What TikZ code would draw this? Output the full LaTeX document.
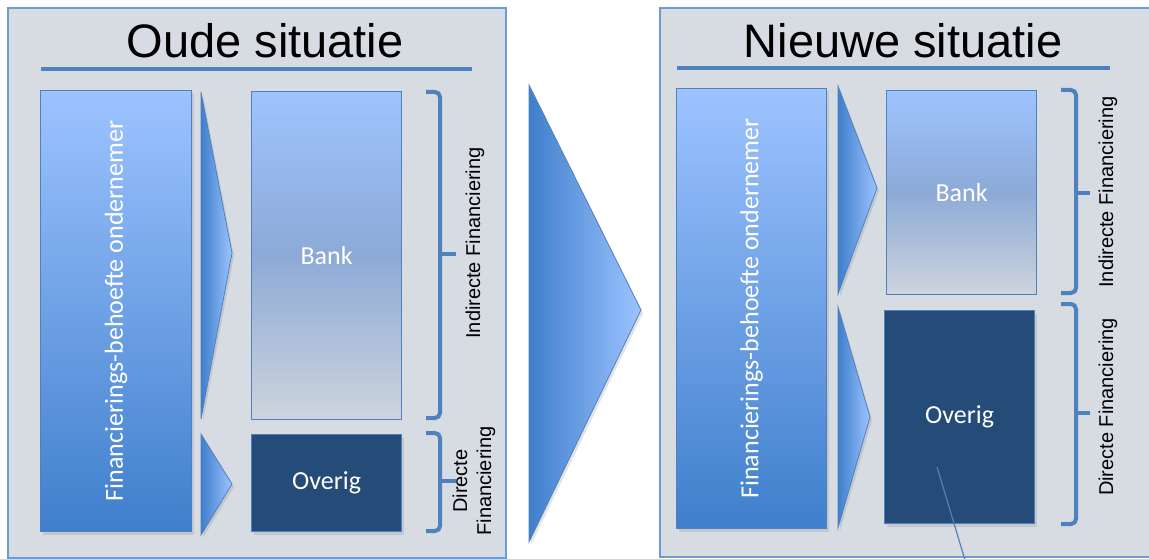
\documentclass[tikz,border=0pt]{standalone}
\usepackage{xcolor}
\usepackage{fontspec}
\setmainfont{Carlito}
\newfontfamily\arialfont{Liberation Sans}
\usepackage{tikz}
\usetikzlibrary{shadows}

\definecolor{panelGray}{HTML}{D7DCE3}
\definecolor{panelLine}{HTML}{6C9BD6}
\definecolor{lineBlue}{HTML}{4F81BD}
\definecolor{lightBlue}{HTML}{9DC3FF}
\definecolor{darkBlue}{HTML}{3F7FCC}
\definecolor{midBank}{HTML}{8DAAD6}
\definecolor{paleBank}{HTML}{CED4DD}
\definecolor{navyBox}{HTML}{254B79}

\begin{document}
\begin{tikzpicture}[x=1pt, y=-1pt,
             panel/.style={draw=panelLine, fill=panelGray, line width=1.2pt},
             softshadow/.style={drop shadow={opacity=.22, shadow xshift=2pt, shadow yshift=-3pt}},
             underline/.style={draw=lineBlue, line width=4pt},
             title/.style={draw=none, anchor=base, font=\arialfont\fontsize{47}{56}\selectfont},
             needbox/.style={draw=lineBlue, line width=1pt, top color=lightBlue, bottom color=darkBlue, softshadow, anchor=north west, inner sep=0pt},
             bankbox/.style={draw=lineBlue, line width=1.2pt, top color=lightBlue, bottom color=paleBank, middle color=midBank, anchor=north west, inner sep=0pt},
             overigbox/.style={draw=lineBlue, line width=1.2pt, fill=navyBox, softshadow, anchor=north west, inner sep=0pt},
             boxtext/.style={draw=none, text=white, font=\fontsize{26}{31}\selectfont},
             tri/.style={draw=lineBlue, line width=.8pt, left color=darkBlue, right color=lightBlue, softshadow},
             bracket/.style={draw=lineBlue, line width=4pt, rounded corners=5pt},
             sidetext/.style={draw=none, rotate=90, align=center, font=\arialfont\fontsize{20}{24}\selectfont},
             callout/.style={draw=lineBlue, line width=1.2pt}]
             \clip (0,0) rectangle (1149,559);
             \fill[white] (0,0) rectangle (1149,559);

             \draw[panel] (8,8) rectangle (506,558);
             \draw[panel] (660,8) rectangle (1170,557);

             \node[title] (titleOud) at (265,58) {Oude situatie};
             \draw[underline] (41,69) -- (472,69);
             \node[title] (titleNieuw) at (903,58) {Nieuwe situatie};
             \draw[underline] (677,68) -- (1110,68);

             \node[needbox, minimum width=151pt, minimum height=441pt] (needL) at (40,90) {};
             \node[boxtext, rotate=90] (needTextL) at (needL.center) {Financierings-behoefte ondernemer};
             \node[needbox, minimum width=150pt, minimum height=440pt] (needR) at (676,88) {};
             \node[boxtext, rotate=90] (needTextR) at (needR.center) {Financierings-behoefte ondernemer};

             \draw[tri] (201,92) -- (232,253) -- (201,419) -- cycle;
             \draw[tri] (201,434) -- (232,484) -- (201,535) -- cycle;
             \draw[tri] (529,85) -- (641,310) -- (529,542) -- cycle;
             \draw[tri] (838,86) -- (877,188) -- (838,294) -- cycle;
             \draw[tri] (838,307) -- (870,417) -- (838,528) -- cycle;

             \node[bankbox, minimum width=150pt, minimum height=328pt] (bankL) at (251,91) {};
             \node[boxtext] (bankTextL) at (bankL.center) {Bank};
             \node[overigbox, minimum width=150pt, minimum height=97pt] (overigL) at (251,434) {};
             \node[boxtext] (overigTextL) at (overigL.center) {Overig};

             \node[bankbox, minimum width=150pt, minimum height=204pt] (bankR) at (886,90) {};
             \node[boxtext] (bankTextR) at (bankR.center) {Bank};
             \node[overigbox, minimum width=150pt, minimum height=213pt] (overigR) at (884,310) {};
             \node[boxtext] (overigTextR) at (overigR.center) {Overig};

             \draw[bracket] (426,92) -- (440,92) -- (440,418) -- (426,418);
             \draw[bracket] (440,254) -- (456,254);
             \draw[bracket] (426,433) -- (440,433) -- (440,531) -- (426,531);
             \draw[bracket] (440,481) -- (456,481);
             \draw[bracket] (1061,90) -- (1076,90) -- (1076,293) -- (1061,293);
             \draw[bracket] (1076,193) -- (1090,193);
             \draw[bracket] (1061,304) -- (1076,304) -- (1076,524) -- (1061,524);
             \draw[bracket] (1076,413) -- (1090,413);

             \node[sidetext] (indirectL) at (475,243) {Indirecte Financiering};
             \node[sidetext] (directL) at (474,481) {Directe\\Financiering};
             \node[sidetext] (indirectR) at (1108,192) {Indirecte Financiering};
             \node[sidetext] (directR) at (1108,407) {Directe Financiering};

             \coordinate (calloutTip) at (937,467);
             \coordinate (calloutEnd) at (965,560);
             \draw[callout] (calloutTip) -- (calloutEnd);
             \end{tikzpicture}
\end{document}
